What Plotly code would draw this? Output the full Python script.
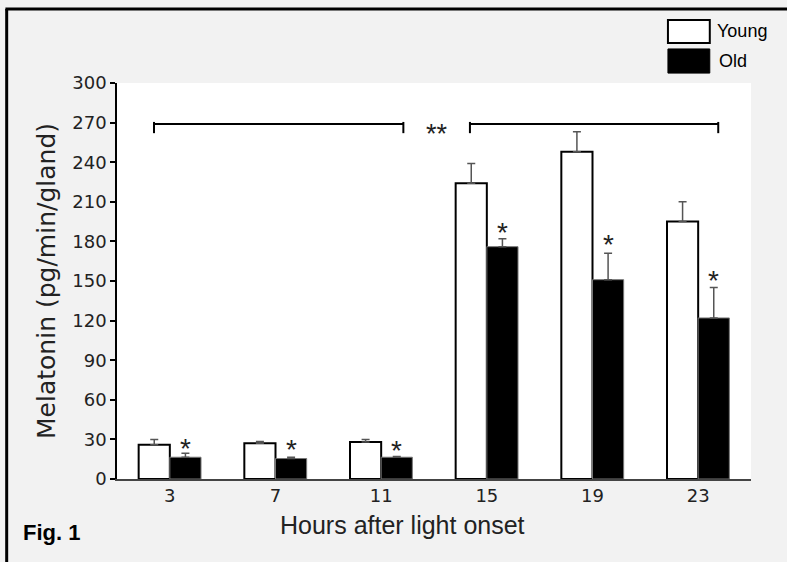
import plotly.graph_objects as go

hours = ["3", "7", "11", "15", "19", "23"]
young = [26, 27, 28, 224, 248, 195]
young_err = [4, 1.5, 2, 15, 15, 15]
old = [16.5, 15.5, 16.5, 176, 151, 122]
old_err = [3, 1, 0.6, 6, 20, 23]
star_y = [25.5, 24.5, 24, 189, 180, 153]
y_ticks = [0, 30, 60, 90, 120, 150, 180, 210, 240, 270, 300]

x = list(range(len(hours)))
half = 0.1475

fig = go.Figure()
fig.add_trace(go.Bar(
    x=x, y=young, name="Young",
    marker=dict(color="white", line=dict(color="black", width=2)),
    error_y=dict(type="data", array=young_err, arrayminus=[0]*6, symmetric=False,
                 color="#555555", thickness=1.5, width=4),
    showlegend=False))
fig.add_trace(go.Bar(
    x=x, y=old, name="Old",
    marker=dict(color="black", line=dict(color="#777777", width=1)),
    error_y=dict(type="data", array=old_err, arrayminus=[0]*6, symmetric=False,
                 color="#555555", thickness=1.5, width=4),
    showlegend=False))

# asterisks above old bars
for i, sy in enumerate(star_y):
    fig.add_annotation(x=i + half, y=sy, text="*", showarrow=False,
                       font=dict(family="Liberation Sans", size=28, color="#222222"),
                       yanchor="middle", yshift=-3)

# significance brackets
brackets = [(-0.15, 2.21), (2.84, 5.19)]
br_y, br_lo, br_hi = 269, 262, 270.5
for x0, x1 in brackets:
    fig.add_shape(type="line", x0=x0, x1=x1, y0=br_y, y1=br_y, xref="x", yref="y",
                  line=dict(color="black", width=2))
    for xx in (x0, x1):
        fig.add_shape(type="line", x0=xx, x1=xx, y0=br_lo, y1=br_hi, xref="x", yref="y",
                      line=dict(color="black", width=2))
fig.add_annotation(x=2.53, y=266, text="**", showarrow=False,
                   font=dict(family="Liberation Sans", size=27, color="#222222"),
                   yanchor="middle", yshift=-6)

# custom legend
fig.add_shape(type="rect", xref="paper", yref="paper", x0=0.869, x1=0.935, y0=1.101, y1=1.159,
              fillcolor="white", line=dict(color="black", width=2))
fig.add_shape(type="rect", xref="paper", yref="paper", x0=0.869, x1=0.935, y0=1.025, y1=1.086,
              fillcolor="black", line=dict(color="black", width=1))
fig.add_annotation(xref="paper", yref="paper", x=0.944, y=1.131, text="Young", showarrow=False,
                   xanchor="left", yanchor="middle",
                   font=dict(family="Liberation Sans", size=18, color="black"))
fig.add_annotation(xref="paper", yref="paper", x=0.946, y=1.056, text="Old", showarrow=False,
                   xanchor="left", yanchor="middle",
                   font=dict(family="Liberation Sans", size=18, color="black"))

# x axis title
fig.add_annotation(xref="paper", yref="paper", x=0.450, y=-0.116, text="Hours after light onset",
                   showarrow=False, xanchor="center", yanchor="middle",
                   font=dict(family="Liberation Sans", size=25, color="#222222"))

# figure label
fig.add_annotation(xref="paper", yref="paper", x=-0.152, y=-0.134, text="<b>Fig. 1</b>",
                   showarrow=False, xanchor="left", yanchor="middle",
                   font=dict(family="Liberation Sans", size=22, color="black"))

# outer frame: left and top edges (running off the picture)
fig.add_shape(type="line", xref="paper", yref="paper", x0=-0.174, x1=-0.174, y0=-0.22, y1=1.187,
              line=dict(color="black", width=3))
fig.add_shape(type="line", xref="paper", yref="paper", x0=-0.176, x1=1.06, y0=1.187, y1=1.187,
              line=dict(color="black", width=3))

fig.update_layout(
    width=787, height=562,
    margin=dict(l=117, r=36, t=83, b=83),
    paper_bgcolor="#f2f2f2", plot_bgcolor="white",
    barmode="group", bargap=0.41, bargroupgap=0,
    font=dict(family="DejaVu Sans", color="black"),
    xaxis=dict(range=[-0.5, 5.5], tickvals=x, ticktext=hours, showgrid=False, zeroline=False,
               showline=True, linecolor="#444444", linewidth=1.5, ticks="",
               tickfont=dict(family="DejaVu Sans", size=18, color="#222222")),
    yaxis=dict(range=[0, 300], tickvals=y_ticks, showgrid=False, zeroline=False,
               showline=True, linecolor="black", linewidth=1.5, ticks="outside", ticklen=5,
               tickcolor="black", tickwidth=1.5,
               tickfont=dict(family="DejaVu Sans", size=18, color="#222222"),
               title=dict(text="Melatonin (pg/min/gland)", standoff=10,
                          font=dict(family="DejaVu Sans", size=25, color="#222222"))),
)

fig.write_html("out.html", config={"displayModeBar": False},
               post_script="document.body.style.margin='0px';"
                           "document.body.style.overflow='hidden';"
                           "document.documentElement.style.overflow='hidden';")
